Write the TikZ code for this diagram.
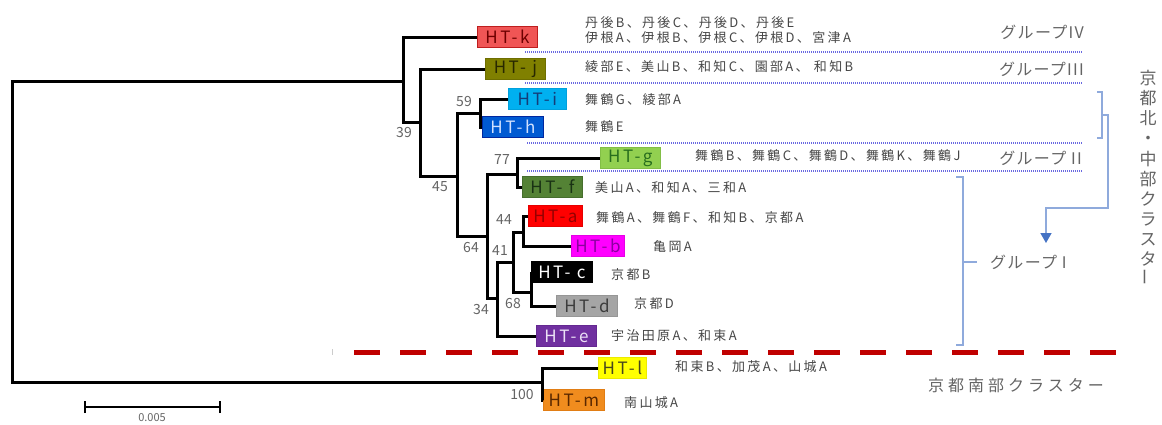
\documentclass[tikz,border=0pt]{standalone}
\usepackage{graphicx}
\usepackage{fontspec}
\setmainfont{Noto Sans CJK JP}
\newfontfamily\jpl[LetterSpace=18]{Noto Sans CJK JP}
\newfontfamily\jpg[LetterSpace=8]{Noto Sans CJK JP}
\newfontfamily\jpb[LetterSpace=15]{Noto Sans CJK JP}
\newfontfamily\jpc[LetterSpace=25]{Noto Sans CJK JP}
\usetikzlibrary{arrows.meta}
\definecolor{lbl}{RGB}{70,70,70}
\definecolor{numc}{RGB}{100,100,100}
\definecolor{dotc}{RGB}{105,105,225}
\definecolor{brk}{RGB}{143,170,220}
\definecolor{arr}{RGB}{68,114,196}
\definecolor{redd}{RGB}{192,0,0}
\definecolor{kf}{RGB}{240,85,85}\definecolor{kd}{RGB}{190,30,30}\definecolor{kt}{RGB}{110,0,0}
\definecolor{jf}{RGB}{128,128,0}\definecolor{jd}{RGB}{110,110,0}\definecolor{jt}{RGB}{40,40,0}
\definecolor{if}{RGB}{0,176,240}\definecolor{id}{RGB}{0,160,220}\definecolor{it}{RGB}{20,60,120}
\definecolor{hf}{RGB}{0,90,210}\definecolor{hd}{RGB}{0,40,160}\definecolor{ht}{RGB}{210,225,255}
\definecolor{gf}{RGB}{146,208,80}\definecolor{gd}{RGB}{130,190,70}\definecolor{gt}{RGB}{40,110,30}
\definecolor{ff}{RGB}{84,130,53}\definecolor{fd}{RGB}{70,110,45}\definecolor{ft}{RGB}{25,50,20}
\definecolor{af}{RGB}{255,0,0}\definecolor{ad}{RGB}{230,0,0}\definecolor{at}{RGB}{150,0,0}
\definecolor{bf}{RGB}{255,0,255}\definecolor{bd}{RGB}{230,0,230}\definecolor{bt}{RGB}{140,0,160}
\definecolor{cf}{RGB}{0,0,0}\definecolor{cd}{RGB}{0,0,0}\definecolor{ct}{RGB}{255,255,255}
\definecolor{df}{RGB}{165,165,165}\definecolor{dd}{RGB}{150,150,150}\definecolor{dt}{RGB}{60,60,60}
\definecolor{ef}{RGB}{112,48,160}\definecolor{ed}{RGB}{100,40,145}\definecolor{et}{RGB}{235,225,245}
\definecolor{lf}{RGB}{255,255,0}\definecolor{ld}{RGB}{235,235,0}\definecolor{lt}{RGB}{70,70,30}
\definecolor{mf}{RGB}{240,140,30}\definecolor{md}{RGB}{225,125,20}\definecolor{mt}{RGB}{90,40,0}
\tikzset{
  htbox/.style={rectangle, inner sep=0pt, minimum height=21pt, anchor=west, line width=0.8pt,
    font=\jpb\fontsize{17}{20}\selectfont},
  hx/.style={htbox, fill=#1f, draw=#1d, text=#1t},
  branch/.style={line width=3pt, line join=miter, black},
  lab/.style={anchor=west, inner sep=0pt, text=lbl, font=\jpl\fontsize{13}{15}\selectfont},
  numl/.style={inner sep=0pt, text=numc, font=\fontsize{14}{16}\selectfont},
  grp/.style={inner sep=0pt, text=numc, font=\jpg\fontsize{16}{18}\selectfont},
  sepline/.style={dotc, line width=1.5pt, dash pattern=on 1pt off 1pt},
  brkline/.style={brk, line width=1.4pt},
}
\begin{document}
\begin{tikzpicture}[x=1pt,y=-1pt]
\useasboundingbox (0,0) rectangle (1162,424);
% internal nodes of the tree
\coordinate (R) at (12,232);
\coordinate (A) at (403,81);
\coordinate (B) at (420,122);
\coordinate (C) at (457,176);
\coordinate (D) at (480,113);
\coordinate (E) at (487,236);
\coordinate (F) at (517,174);
\coordinate (G) at (497,298);
\coordinate (H) at (513,262);
\coordinate (I) at (523,232);
\coordinate (J) at (531,292);
\coordinate (K) at (542,382);
% haplotype boxes
\node[hx=k, minimum width=60pt] (k) at (477,37) {HT-k};
\node[hx=j, minimum width=60pt] (j) at (485,69) {HT- j};
\node[hx=i, minimum width=58pt] (i) at (508,99) {HT-i};
\node[hx=h, minimum width=61pt] (h) at (482,127) {HT-h};
\node[hx=g, minimum width=60pt] (g) at (600,158) {HT-g};
\node[hx=f, minimum width=60pt] (f) at (522,187) {HT- f};
\node[hx=a, minimum width=54pt] (a) at (528,216) {HT-a};
\node[hx=b, minimum width=53pt] (b) at (571,246) {HT-b};
\node[hx=c, minimum width=61pt] (c) at (531,272) {HT- c};
\node[hx=d, minimum width=61pt] (d) at (556,306) {HT-d};
\node[hx=e, minimum width=60pt] (e) at (536,336) {HT-e};
\node[hx=l, minimum width=48pt] (l) at (598,368) {HT-l};
\node[hx=m, minimum width=61pt] (m) at (543,400) {HT-m};
% tree branches
\draw[branch] (R) |- (A) (R) |- (K);
\draw[branch] (A) |- (k.west) (A) |- (B);
\draw[branch] (B) |- (j.west) (B) |- (C);
\draw[branch] (C) |- (D) (C) |- (E);
\draw[branch] (D) |- (i.west) (D) |- (h.west);
\draw[branch] (E) |- (F) (E) |- (G);
\draw[branch] (F) |- (g.west) (F) |- (f.west);
\draw[branch] (G) |- (H) (G) |- (e.west);
\draw[branch] (H) |- (I) (H) |- (J);
\draw[branch] (I) |- (a.west) (I) |- (b.west);
\draw[branch] (J) |- (c.west) (J) |- (d.west);
\draw[branch] (K) |- (l.west) (K) |- (m.west);
% bootstrap values
\node[numl] (n39) at (404,133) {39};
\node[numl] (n45) at (440,187) {45};
\node[numl] (n59) at (464,102) {59};
\node[numl] (n64) at (471,248) {64};
\node[numl] (n77) at (502,160) {77};
\node[numl] (n44) at (504,220) {44};
\node[numl] (n41) at (500,251) {41};
\node[numl] (n34) at (481,310) {34};
\node[numl] (n68) at (513,304) {68};
\node[numl] (n100) at (522,394) {100};
% locality labels
\node[lab, align=left] (tk) at (585,30) {丹後B、丹後C、丹後D、丹後E\\伊根A、伊根B、伊根C、伊根D、宮津A};
\node[lab] (tj) at (585,67) {綾部E、美山B、和知C、園部A、 和知B};
\node[lab] (ti) at (585,100) {舞鶴G、綾部A};
\node[lab] (th) at (585,127) {舞鶴E};
\node[lab] (tg) at (695,156) {舞鶴B、舞鶴C、舞鶴D、舞鶴K、舞鶴J};
\node[lab] (tf) at (595,188) {美山A、和知A、三和A};
\node[lab] (ta) at (596,218) {舞鶴A、舞鶴F、和知B、京都A};
\node[lab] (tb) at (653,247) {亀岡A};
\node[lab] (tc) at (611,275) {京都B};
\node[lab] (td) at (634,304) {京都D};
\node[lab] (te) at (611,336) {宇治田原A、和束A};
\node[lab] (tl) at (675,367) {和束B、加茂A、山城A};
\node[lab] (tm) at (624,403) {南山城A};
% group separators
\draw[sepline] (525,52) -- (1082,52);
\draw[sepline] (525,83) -- (1082,83);
\draw[sepline] (527,143) -- (1082,143);
\draw[sepline] (527,171) -- (1082,171);
% group labels
\node[grp, anchor=east] (g4) at (1084,32) {グループIV};
\node[grp, anchor=east] (g3) at (1084,69) {グループIII};
\node[grp, anchor=east] (g2) at (1082,158) {グループ II};
\node[grp, anchor=west] (g1) at (990,262) {グループ I};
% brackets
\draw[brkline] (956,177) -- (963,177) -- (963,345) -- (956,345);
\draw[brkline] (963,262) -- (977,262);
\coordinate (arrend) at (1046,243);
\draw[brkline] (1097,92) -- (1102,92) -- (1102,138) -- (1097,138);
\draw[brkline, -{Triangle[length=10pt,width=11pt,color=arr]}] (1102,115) -- (1108,115) -- (1108,208) -- (1046,208) -- (arrend);
% cluster names
\node[inner sep=0pt, text=numc, align=center, font=\fontsize{17}{20.1}\selectfont] (vt) at (1148,178)
  {京\\都\\北\\・\\中\\部\\ク\\ラ\\ス\\タ\\\rotatebox{90}{ー}};
\node[grp, font=\jpc\fontsize{16}{18}\selectfont, anchor=west] (south) at (928,385) {京都南部クラスター};
% cluster border
\draw[redd, line width=5pt, dash pattern=on 26pt off 20pt] (354,352) -- (1117,352);
\draw[black!20, line width=1pt] (332,349) -- (332,355);
% scale bar
\coordinate (s1) at (85,407);
\coordinate (s2) at (220,407);
\draw[line width=2pt] (s1) -- (s2);
\draw[line width=2pt] ([yshift=-6pt]s1) -- ([yshift=6pt]s1);
\draw[line width=2pt] ([yshift=-6pt]s2) -- ([yshift=6pt]s2);
\node[numl, font=\fontsize{11}{12}\selectfont] (slab) at (152,418) {0.005};
\end{tikzpicture}
\end{document}
